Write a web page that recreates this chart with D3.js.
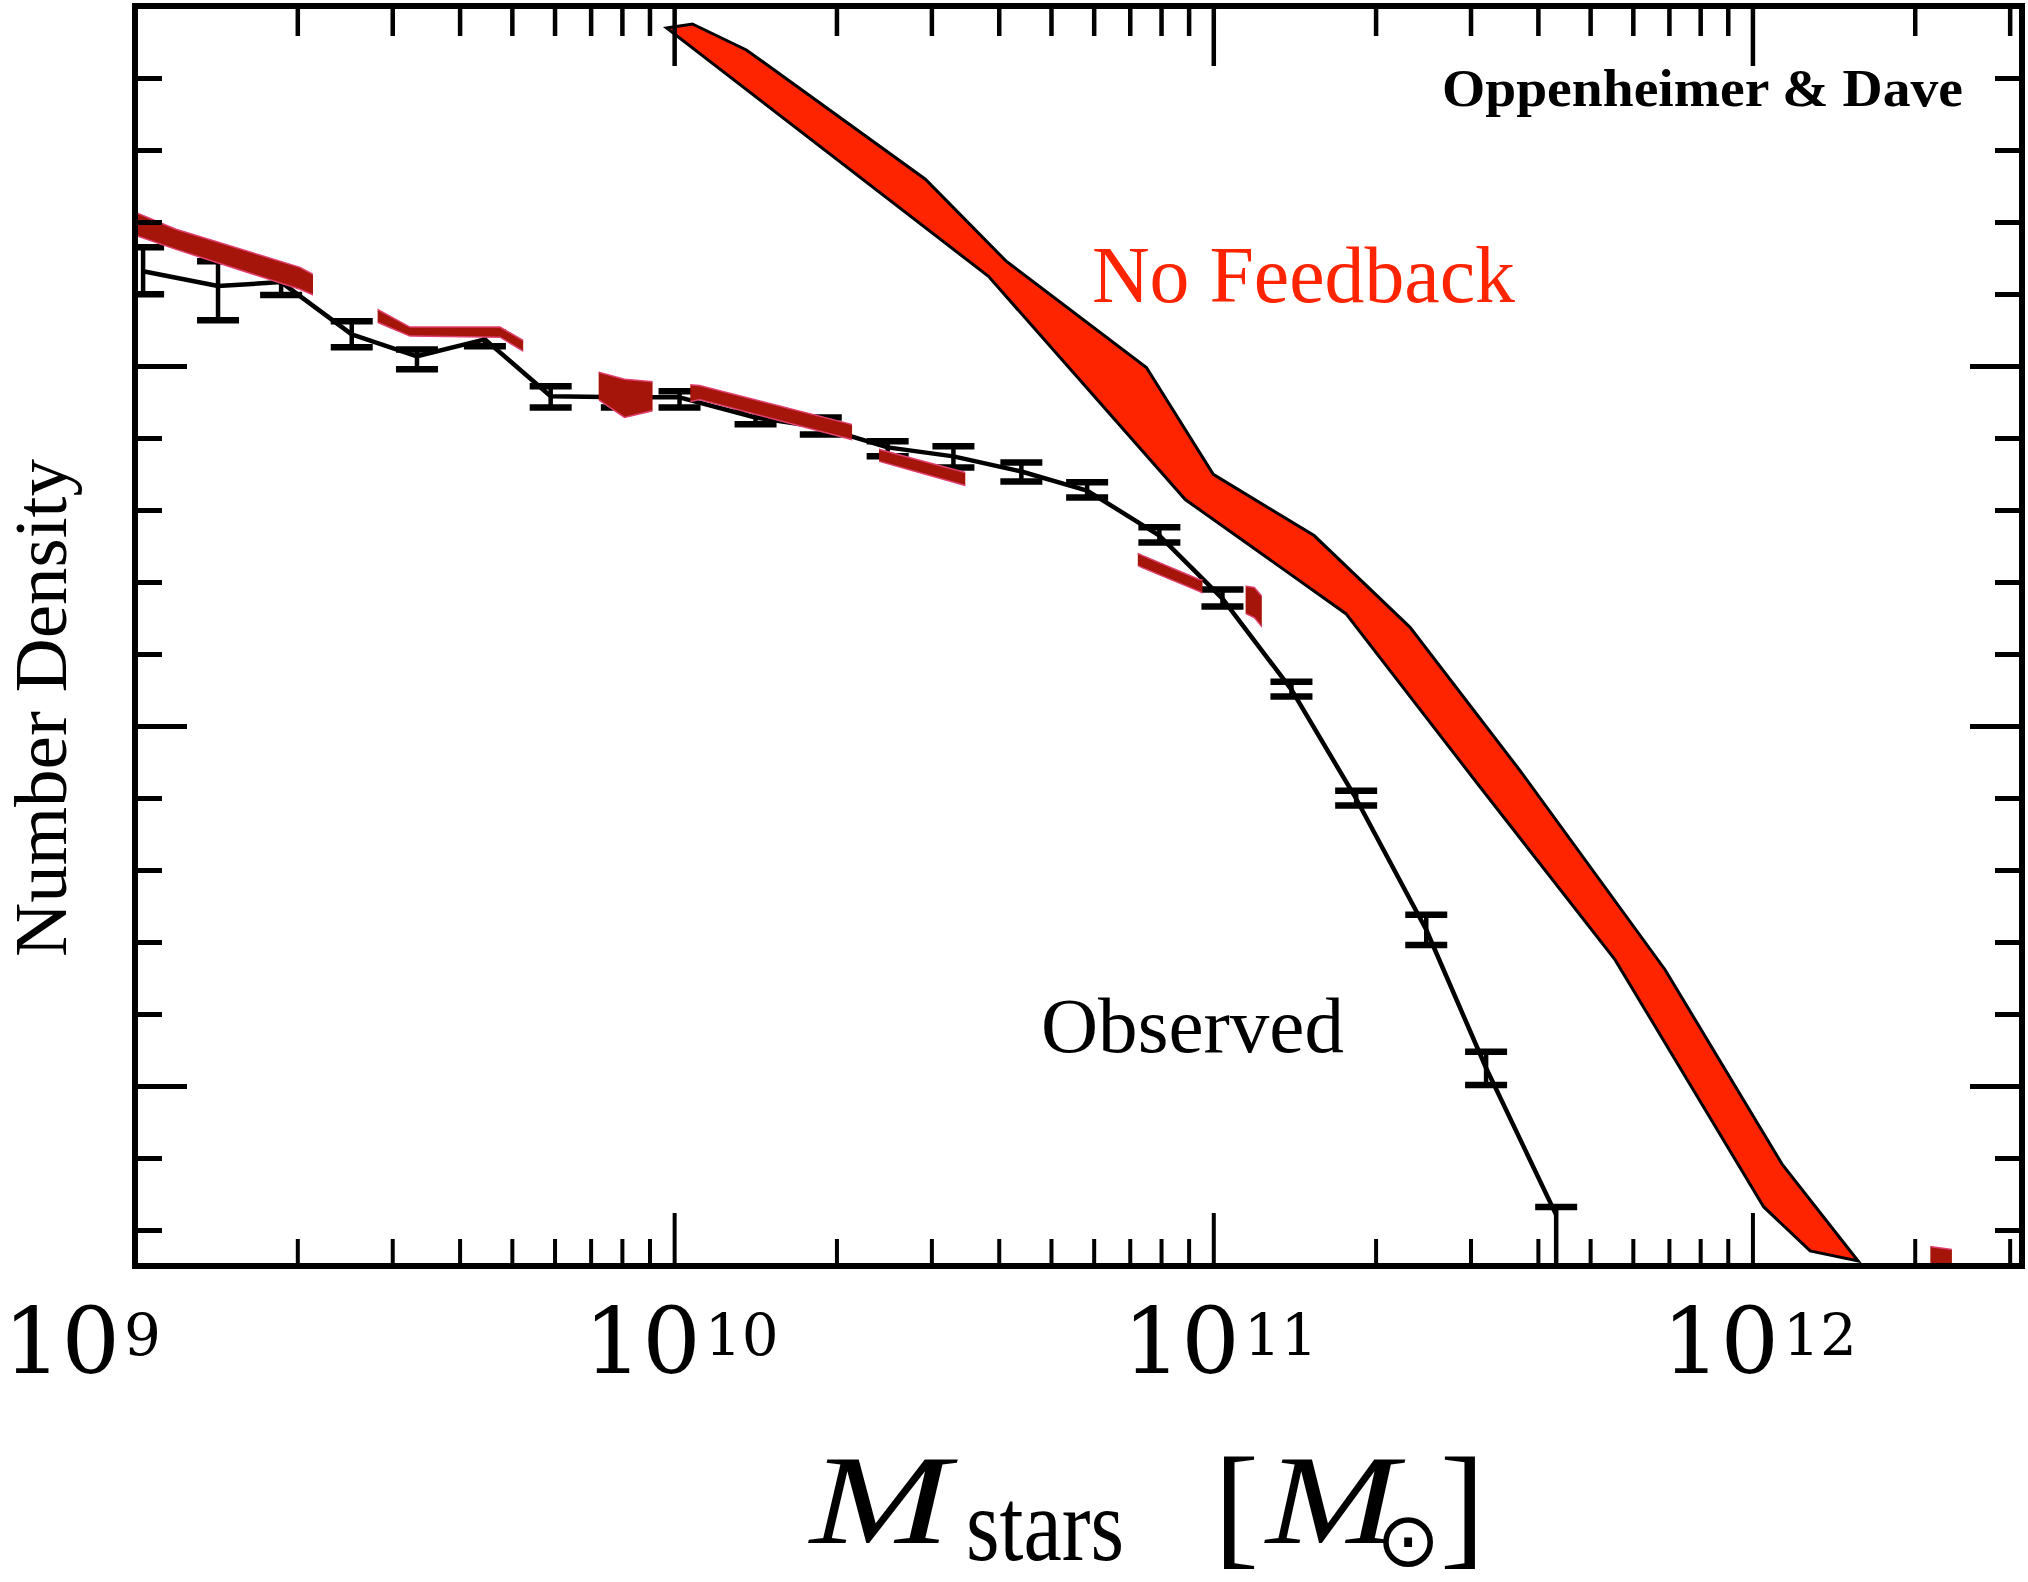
<!DOCTYPE html>
<html>
<head>
<meta charset="utf-8">
<script src="https://cdn.jsdelivr.net/npm/d3@7"></script>
<style>
  body { margin: 0; background: #fff; }
  svg { display: block; }
</style>
</head>
<body>
<svg id="chart" width="2028" height="1582"></svg>
<script>

// observed stellar mass function: log10 M, log10 phi, error bar ends
const obsMass = [9.015, 9.154, 9.271, 9.402, 9.523, 9.649, 9.771, 9.903, 10.010, 10.151, 10.272,
                 10.396, 10.518, 10.644, 10.766, 10.900, 11.017, 11.145, 11.265, 11.395, 11.506, 11.636];
const obsPhi  = [-1.737, -1.778, -1.767, -1.912, -1.973, -1.926, -2.084, -2.087, -2.087, -2.143, -2.170,
                 -2.226, -2.251, -2.293, -2.346, -2.471, -2.646, -2.899, -3.202, -3.566, -3.950, -4.358];
const obsHi   = [-1.670, -1.709, -1.737, -1.876, -1.954, -1.906, -2.056, -2.059, -2.070, -2.120, -2.143,
                 -2.209, -2.223, -2.268, -2.323, -2.448, -2.621, -2.877, -3.180, -3.524, -3.905, -4.336];
const obsLo   = [-1.801, -1.873, -1.803, -1.948, -2.009, -1.945, -2.115, -2.115, -2.115, -2.162, -2.190,
                 -2.251, -2.282, -2.321, -2.365, -2.490, -2.668, -2.918, -3.221, -3.608, -3.997, -4.800];

// "No Feedback" model band, upper and lower edges
const nfUpperMass = [10.034, 10.134, 10.466, 10.616, 10.876, 11.000, 11.187, 11.365, 11.569, 11.838, 12.055, 12.196];
const nfUpperPhi  = [-1.050, -1.122, -1.481, -1.709, -2.004, -2.301, -2.471, -2.726, -3.124, -3.677, -4.217, -4.486];
const nfLowerMass = [9.986, 10.583, 10.948, 11.246, 11.493, 11.745, 12.021, 12.107, 12.196];
const nfLowerPhi  = [-1.061, -1.751, -2.371, -2.688, -3.166, -3.649, -4.336, -4.458, -4.486];

// faint dark red model band behind the data (only pieces of it survive)
const fbMass  = [9.000, 9.076, 9.306, 9.510, 9.677, 9.788, 9.908, 10.047, 10.329, 10.381, 10.540, 10.868, 10.974, 11.076, 11.300, 12.300, 12.400];
const fbUpper = [-1.573, -1.620, -1.726, -1.892, -1.892, -1.987, -2.037, -2.054, -2.162, -2.232, -2.296, -2.526, -2.593, -2.615, -3.000, -4.440, -4.460];
const fbLower = [-1.637, -1.676, -1.787, -1.917, -1.920, -2.020, -2.143, -2.093, -2.204, -2.265, -2.332, -2.560, -2.626, -2.699, -3.100, -4.520, -4.540];
const fbShown = [[9.0, 9.33], [9.45, 9.72], [9.86, 9.96], [10.03, 10.33], [10.38, 10.54],
                 [10.86, 10.98], [11.06, 11.09], [12.33, 12.37]];

// axis
const xMajorExp = [9, 10, 11, 12];
const yMajor = [-4, -3, -2];
const yMinor = [-4.4, -4.2, -3.8, -3.6, -3.4, -3.2, -2.8, -2.6, -2.4, -2.2, -1.8, -1.6, -1.4, -1.2];


const svg = d3.select("#chart");
const pLeft = 135, pRight = 2022, pTop = 6, pBottom = 1266;
const serif = "'Liberation Serif', 'Times New Roman', Times, serif";

const x = d3.scaleLog().domain([1e9, Math.pow(10, 12.5)]).range([pLeft, pRight]);
const y = d3.scaleLinear().domain([-4.5, -1]).range([pBottom, pTop]);
const xm = m => x(Math.pow(10, m));

const defs = svg.append("defs");
defs.append("clipPath").attr("id", "plot-clip")
  .append("rect")
  .attr("x", pLeft).attr("y", pTop)
  .attr("width", pRight - pLeft).attr("height", pBottom - pTop);

const plot = svg.append("g").attr("clip-path", "url(#plot-clip)");

// observed line
const obs = obsMass.map((m, i) => ({ m: m, p: obsPhi[i], lo: obsLo[i], hi: obsHi[i] }));

plot.append("path")
  .datum(obs)
  .attr("fill", "none")
  .attr("stroke", "#000")
  .attr("stroke-width", 4.5)
  .attr("stroke-linejoin", "round")
  .attr("d", d3.line().x(d => xm(d.m)).y(d => y(d.p)));

const bars = plot.append("g").attr("stroke", "#000");
bars.selectAll(".err")
  .data(obs)
  .enter()
  .append("line")
  .attr("stroke-width", 4.5)
  .attr("x1", d => xm(d.m)).attr("x2", d => xm(d.m))
  .attr("y1", d => y(d.lo)).attr("y2", d => y(d.hi));

bars.selectAll(".cap")
  .data(obs.flatMap(d => [{ m: d.m, v: d.lo }, { m: d.m, v: d.hi }]))
  .enter()
  .append("line")
  .attr("stroke-width", 6.5)
  .attr("x1", d => xm(d.m) - 21).attr("x2", d => xm(d.m) + 21)
  .attr("y1", d => y(d.v)).attr("y2", d => y(d.v));

// dark red fragments
const fb = fbMass.map((m, i) => ({ m: m, u: fbUpper[i], l: fbLower[i] }));
const fbArea = d3.area().x(d => xm(d.m)).y0(d => y(d.l)).y1(d => y(d.u));

fbShown.forEach(function (r, i) {
  defs.append("clipPath").attr("id", "fb" + i)
    .append("rect")
    .attr("x", xm(r[0])).attr("y", pTop)
    .attr("width", xm(r[1]) - xm(r[0])).attr("height", pBottom - pTop);
  plot.append("path")
    .datum(fb)
    .attr("clip-path", "url(#fb" + i + ")")
    .attr("fill", "#a5150a")
    .attr("stroke", "#e04070")
    .attr("stroke-width", 1.5)
    .attr("d", fbArea);
});

// no feedback band
const nfPoly = nfUpperMass.map((m, i) => [xm(m), y(nfUpperPhi[i])])
  .concat(nfLowerMass.map((m, i) => [xm(m), y(nfLowerPhi[i])]).reverse());

plot.append("path")
  .attr("d", "M" + nfPoly.join("L") + "Z")
  .attr("fill", "#ff2400")
  .attr("stroke", "#000")
  .attr("stroke-width", 3)
  .attr("stroke-linejoin", "miter");

// ticks
const xAll = x.ticks(40).filter(v => v <= Math.pow(10, 12.5));
const isMajor = v => Math.abs(Math.log10(v) - Math.round(Math.log10(v))) < 1e-6;
const xMinor = xAll.filter(v => !isMajor(v));
const xMajor = xMajorExp.map(e => Math.pow(10, e));

function xTicks(axisFn, yPos, size, values, width) {
  const g = svg.append("g")
    .attr("transform", "translate(0," + yPos + ")")
    .call(axisFn(x).tickValues(values).tickSize(size).tickFormat(""));
  g.select(".domain").remove();
  g.selectAll("line").attr("stroke", "#000").attr("stroke-width", width);
}
xTicks(d3.axisBottom, pBottom, -27, xMinor, 4);
xTicks(d3.axisBottom, pBottom, -53, xMajor, 4);
xTicks(d3.axisTop, pTop, -30, xMinor, 4.5);
xTicks(d3.axisTop, pTop, -60, xMajor, 4.5);

function yTicks(axisFn, xPos, size, values) {
  const g = svg.append("g")
    .attr("transform", "translate(" + xPos + ",0)")
    .call(axisFn(y).tickValues(values).tickSize(size).tickFormat(""));
  g.select(".domain").remove();
  g.selectAll("line").attr("stroke", "#000").attr("stroke-width", 5);
}
yTicks(d3.axisLeft, pLeft, -27, yMinor);
yTicks(d3.axisLeft, pLeft, -52, yMajor);
yTicks(d3.axisRight, pRight, -27, yMinor);
yTicks(d3.axisRight, pRight, -52, yMajor);

// frame
svg.append("rect")
  .attr("x", pLeft).attr("y", pTop)
  .attr("width", pRight - pLeft).attr("height", pBottom - pTop)
  .attr("fill", "none")
  .attr("stroke", "#000")
  .attr("stroke-width", 6);

// tick labels 10^n
xMajorExp.forEach(function (e, i) {
  const t = svg.append("text")
    .attr("y", 1373)
    .style("font-family", "'DejaVu Serif', serif")
    .style("font-size", "92px")
    .attr("fill", "#000");
  if (i === 0) {
    t.attr("x", 3).attr("text-anchor", "start");
  } else {
    t.attr("x", x(Math.pow(10, e)) + 7).attr("text-anchor", "middle");
  }
  t.append("tspan").text("10");
  t.append("tspan")
    .attr("dx", 4)
    .attr("dy", -18)
    .style("font-size", "58px")
    .text(e);
});

// annotations
svg.append("text")
  .attr("x", 1442).attr("y", 106)
  .attr("textLength", 521)
  .attr("lengthAdjust", "spacingAndGlyphs")
  .style("font-family", serif)
  .style("font-weight", "bold")
  .style("font-size", "53px")
  .text("Oppenheimer & Dave");

svg.append("text")
  .attr("x", 1092).attr("y", 302)
  .attr("textLength", 423)
  .attr("lengthAdjust", "spacingAndGlyphs")
  .attr("fill", "#ff2400")
  .style("font-family", serif)
  .style("font-size", "80px")
  .text("No Feedback");

svg.append("text")
  .attr("x", 1041).attr("y", 1052)
  .attr("textLength", 303)
  .attr("lengthAdjust", "spacingAndGlyphs")
  .style("font-family", serif)
  .style("font-size", "78px")
  .text("Observed");

svg.append("text")
  .attr("transform", "translate(66,708) rotate(-90)")
  .attr("text-anchor", "middle")
  .style("font-family", serif)
  .style("font-size", "75px")
  .text("Number Density");

// x axis title: M_stars [M_sun]
svg.append("text")
  .attr("x", 810).attr("y", 1543)
  .attr("textLength", 140).attr("lengthAdjust", "spacingAndGlyphs")
  .style("font-family", serif).style("font-style", "italic").style("font-size", "126px")
  .text("M");
svg.append("text")
  .attr("x", 966).attr("y", 1560)
  .attr("textLength", 158).attr("lengthAdjust", "spacingAndGlyphs")
  .style("font-family", serif).style("font-size", "104px")
  .text("stars");
svg.append("text")
  .attr("x", 1214).attr("y", 1551)
  .style("font-family", serif).style("font-size", "135px")
  .text("[");
svg.append("text")
  .attr("x", 1266).attr("y", 1543)
  .attr("textLength", 132).attr("lengthAdjust", "spacingAndGlyphs")
  .style("font-family", serif).style("font-style", "italic").style("font-size", "126px")
  .text("M");
svg.append("text")
  .attr("x", 1408).attr("y", 1566)
  .attr("text-anchor", "middle")
  .style("font-family", "'DejaVu Sans', sans-serif").style("font-size", "76px")
  .text("\u2299");
svg.append("text")
  .attr("x", 1440).attr("y", 1551)
  .style("font-family", serif).style("font-size", "135px")
  .text("]");

</script>
</body>
</html>
